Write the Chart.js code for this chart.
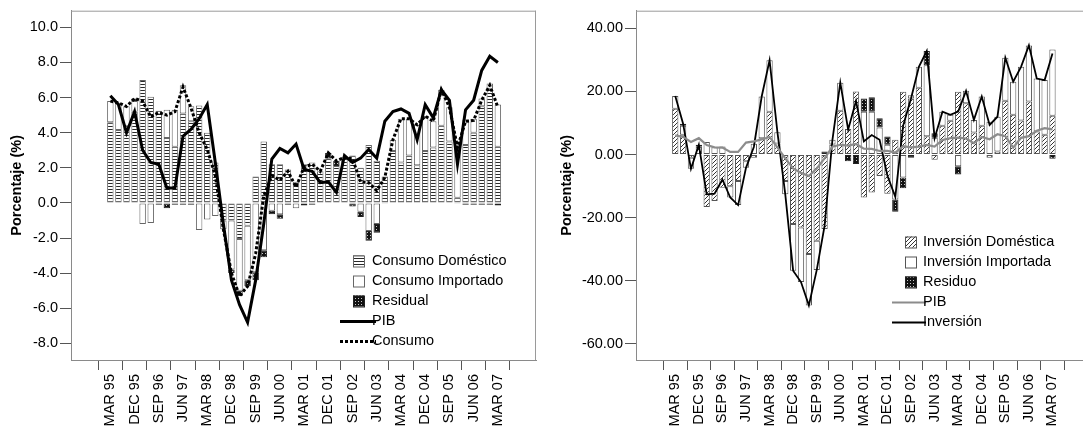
<!DOCTYPE html>
<html>
<head>
<meta charset="utf-8">
<script src="https://cdn.jsdelivr.net/npm/chart.js@4.4.1/dist/chart.umd.min.js"></script>
<style>
  html, body { margin: 0; padding: 0; background: #fff; width: 1083px; height: 428px; overflow: hidden; position: relative; }
  #consumo { position: absolute; left: 0; top: 0; }
  #inversion { position: absolute; left: 540px; top: 0; }
</style>
</head>
<body>
<canvas id="consumo" width="540" height="428"></canvas>
<canvas id="inversion" width="556" height="428"></canvas>
<script>
// ---- Quarterly periods ----
const quarters = [
  'MAR 95','JUN 95','SEP 95','DEC 95','MAR 96','JUN 96','SEP 96','DEC 96',
  'MAR 97','JUN 97','SEP 97','DEC 97','MAR 98','JUN 98','SEP 98','DEC 98',
  'MAR 99','JUN 99','SEP 99','DEC 99','MAR 00','JUN 00','SEP 00','DEC 00',
  'MAR 01','JUN 01','SEP 01','DEC 01','MAR 02','JUN 02','SEP 02','DEC 02',
  'MAR 03','JUN 03','SEP 03','DEC 03','MAR 04','JUN 04','SEP 04','DEC 04',
  'MAR 05','JUN 05','SEP 05','DEC 05','MAR 06','JUN 06','SEP 06','DEC 06',
  'MAR 07'
];
const tickLabels = ['MAR 95','DEC 95','SEP 96','JUN 97','MAR 98','DEC 98','SEP 99','JUN 00',
  'MAR 01','DEC 01','SEP 02','JUN 03','MAR 04','DEC 04','SEP 05','JUN 06','MAR 07'];

// ---- Consumption decomposition (%) ----
const consDomestico = [4.6,4.15,4.4,5.2,7.0,6.05,5.25,3.7,3.2,5.1,4.65,5.55,4.0,2.3,-1.0,-1.0,
  -2.05,-1.3,1.5,3.5,2.2,2.2,1.9,1.2,2.2,2.3,1.8,2.55,2.1,2.6,2.7,2.0,
  3.3,2.4,1.5,2.95,2.3,2.7,2.15,2.95,3.15,4.4,3.5,0.3,3.3,4.0,5.5,6.5,3.2];
const consImportado = [1.2,1.55,1.1,0.6,-1.2,-1.15,0,1.6,2.1,1.6,0.85,-1.55,-0.95,-0.75,-0.5,-2.8,
  -2.95,-3.1,-3.95,-2.7,-0.45,-0.65,0,-0.3,0,0,0,0,0,0,0,-0.5,
  -1.6,-1.2,0,0.65,2.5,2.1,2.3,2.0,1.5,2.05,1.95,2.9,1.45,0.8,0.45,0.3,2.4];
const consResidual = [0,0,0,0.15,0,0,-0.1,-0.3,-0.1,-0.1,-0.1,0,0,0,0,-0.2,
  -0.3,-0.35,-0.45,-0.4,-0.2,-0.25,-0.1,0,-0.15,-0.1,0,0.3,0.3,0,-0.2,-0.3,
  -0.55,-0.5,-0.05,0,0,0,0,0,0,0,0,-0.05,-0.1,-0.1,-0.1,-0.1,-0.15];
const consumoTotal = [5.8,5.7,5.5,5.95,5.8,4.9,5.15,5.0,5.2,6.6,5.4,4.0,3.05,1.55,-1.5,-4.0,
  -5.3,-4.75,-2.9,0.4,1.55,1.3,1.8,0.9,2.05,2.2,1.8,2.85,2.4,2.6,2.5,1.2,
  1.15,0.7,1.45,3.6,4.8,4.8,4.45,4.95,4.65,6.45,5.45,3.15,4.65,4.7,5.85,6.7,5.45];
const pib = [6.1,5.6,4.0,5.2,3.0,2.3,2.2,0.85,0.85,3.8,4.2,4.8,5.6,2.3,-1.2,-4.4,
  -5.8,-6.8,-4.4,-1.2,2.5,3.1,2.85,3.35,1.9,1.8,1.15,1.2,0.6,2.7,2.3,2.55,
  3.05,2.55,4.65,5.2,5.35,5.1,3.6,5.6,4.85,6.45,5.85,2.2,5.3,5.85,7.55,8.35,8.0];

// ---- Investment decomposition (%) ----
const invDomestica = [14.5,6.3,-1.0,2.5,-16.6,-14.7,-10.5,-10.0,-8.4,-2.1,-1.0,5.2,13.6,3.5,-8.4,-22.0,
  -23.1,-31.5,-27.3,-23.6,3.2,13.9,8.1,20.0,-13.6,-12.0,-6.8,-12.4,4.7,19.9,17.8,21.2,
  5.8,-1.6,9.1,10.7,19.9,16.3,7.0,9.1,-1.0,1.0,17.1,12.6,10.8,16.8,7.3,6.3,12.3];
const invImportada = [4.1,2.8,-3.5,0,4.0,2.3,2.6,-3.6,-7.6,-2.1,3.4,13.2,16.3,3.6,-4.2,-14.8,
  -17.3,-16.3,-9.3,0,1.5,8.9,0,0,13.6,13.6,8.6,3.1,-14.2,-7.3,1.0,6.6,
  22.5,5.3,4.5,1.9,-3.7,3.9,4.0,9.3,10.4,11.0,13.6,10.5,17.0,17.8,16.8,17.3,21.0];
const invResiduo = [0,0.7,0,0.6,0,0,0,0,0,0,0,0,0,0,0,0,
  0,0,0,1.0,0,0,-2.1,-3.0,4.2,4.6,2.9,2.6,-3.9,-3.4,-1.0,0,
  4.5,1.5,0,0,-2.6,0,0,0,0,0,0,0,0,0,0,0,-1.3];
const inversionTotal = [18.6,9.8,-4.5,3.1,-12.6,-12.4,-7.9,-13.6,-16.0,-4.2,2.4,18.4,29.9,7.1,-12.6,-36.8,
  -40.4,-47.8,-36.6,-22.6,4.7,22.8,7.9,17.0,4.2,6.2,4.7,-6.7,-13.4,9.2,17.8,27.8,
  32.8,5.2,13.6,12.6,13.6,20.2,11.0,18.4,9.4,12.0,30.7,23.1,27.8,34.6,24.1,23.6,32.0];

const yTicksConsumo = [-8, -6, -4, -2, 0, 2, 4, 6, 8, 10];
const yTicksInversion = [-60, -40, -20, 0, 20, 40];

// ---- Styling helpers ----
const FONT = "'Liberation Sans', Arial, sans-serif";
const FS = 14.5;

function makePattern(w, h, paint) {
  const c = document.createElement('canvas');
  c.width = w; c.height = h;
  const g = c.getContext('2d');
  paint(g, w, h);
  return g.createPattern(c, 'repeat');
}
// horizontal rules for the domestic consumption bars
const stripePattern = makePattern(4, 3, (g, w, h) => {
  g.fillStyle = '#fff'; g.fillRect(0, 0, w, h);
  g.fillStyle = '#2a2a2a'; g.fillRect(0, 0, w, 1);
});
// dark stippled fill for the residual bars
const dotPattern = makePattern(3, 3, (g, w, h) => {
  g.fillStyle = '#111'; g.fillRect(0, 0, w, h);
  g.fillStyle = '#c8c8c8'; g.fillRect(1, 1, 1, 1);
});
// diagonal hatching for the domestic investment bars
const hatchPattern = makePattern(4, 4, (g, w, h) => {
  g.fillStyle = '#fff'; g.fillRect(0, 0, w, h);
  g.strokeStyle = '#333'; g.lineWidth = 1;
  g.beginPath();
  g.moveTo(-1, 1); g.lineTo(1, -1);
  g.moveTo(0, 4); g.lineTo(4, 0);
  g.moveTo(3, 5); g.lineTo(5, 3);
  g.stroke();
});

const xy = arr => arr.map((v, i) => ({ x: i, y: v }));
const tickIndex = tickLabels.map(l => quarters.indexOf(l));

// Frame on top and right side of the plotting area
const framePlugin = {
  id: 'frame',
  afterDraw(chart) {
    const { ctx, chartArea: a } = chart;
    ctx.save();
    ctx.strokeStyle = '#9a9a9a';
    ctx.lineWidth = 1;
    ctx.beginPath();
    ctx.moveTo(a.left, a.top + 0.5); ctx.lineTo(a.right, a.top + 0.5);
    ctx.moveTo(a.right - 0.5, a.top); ctx.lineTo(a.right - 0.5, a.bottom);
    ctx.stroke();
    ctx.restore();
  }
};
// Legend drawn inside the plotting area
const legendPlugin = {
  id: 'boxLegend',
  afterDraw(chart, args, opts) {
    const { ctx } = chart;
    ctx.save();
    ctx.font = `${FS}px ${FONT}`;
    ctx.textBaseline = 'middle';
    opts.items.forEach((it, k) => {
      const y = opts.y + k * opts.rowGap;
      if (it.kind === 'box') {
        ctx.fillStyle = it.fill;
        ctx.fillRect(opts.boxX, y - 5.5, 11, 11);
        ctx.strokeStyle = it.stroke;
        ctx.lineWidth = 1;
        ctx.strokeRect(opts.boxX + 0.5, y - 5, 11, 11);
      } else {
        ctx.strokeStyle = it.color;
        ctx.lineWidth = it.width;
        ctx.setLineDash(it.dash || []);
        ctx.beginPath();
        ctx.moveTo(opts.lineX0, y + 0.5); ctx.lineTo(opts.lineX1, y + 0.5);
        ctx.stroke();
        ctx.setLineDash([]);
      }
      ctx.fillStyle = '#000';
      ctx.fillText(it.label, opts.textX, y);
    });
    ctx.restore();
  }
};

function xAxis(min, max) {
  return {
    type: 'linear', min, max, stacked: true,
    afterBuildTicks: s => { s.ticks = tickIndex.map(v => ({ value: v })); },
    afterFit: s => { s.height = 68; },
    ticks: {
      autoSkip: false, minRotation: 90, maxRotation: 90, padding: 4,
      color: '#000', font: { family: FONT, size: FS },
      callback: v => quarters[v]
    },
    grid: { drawOnChartArea: false, drawTicks: true, tickLength: 10, tickColor: '#555', color: '#555' },
    border: { display: true, color: '#8a8a8a', width: 1 }
  };
}
function yAxis(min, max, ticksList, digits, width, titlePad) {
  return {
    type: 'linear', min, max, stacked: true,
    afterBuildTicks: s => { s.ticks = ticksList.map(v => ({ value: v })); },
    afterFit: s => { s.width = width; },
    ticks: {
      padding: 2, color: '#000', font: { family: FONT, size: FS },
      callback: v => Number(v).toFixed(digits)
    },
    grid: { drawOnChartArea: false, drawTicks: true, tickLength: 11, tickColor: '#555', color: '#555' },
    border: { display: true, color: '#8a8a8a', width: 1 },
    title: {
      display: true, text: 'Porcentaje (%)', color: '#000',
      font: { family: FONT, size: FS, weight: 'bold' },
      padding: { top: titlePad, bottom: 0 }
    }
  };
}
function barSet(label, values, fill, stroke) {
  return {
    type: 'bar', label, data: xy(values), order: 2,
    backgroundColor: fill, borderColor: stroke, borderWidth: 1, borderSkipped: false,
    barPercentage: 0.8, categoryPercentage: 1.0
  };
}
function lineSet(label, values, color, width, dash, stack) {
  return {
    type: 'line', label, data: xy(values), order: 1, stack,
    borderColor: color, borderWidth: width, borderDash: dash, borderCapStyle: 'butt',
    pointRadius: 0, tension: 0, fill: false
  };
}

Chart.defaults.font.family = FONT;

new Chart(document.getElementById('consumo'), {
  data: {
    datasets: [
      barSet('Consumo Doméstico', consDomestico, stripePattern, '#666'),
      barSet('Consumo Importado', consImportado, '#fff', '#666'),
      barSet('Residual', consResidual, dotPattern, '#222'),
      lineSet('PIB', pib, '#000', 3, [], 'pib'),
      lineSet('Consumo', consumoTotal, '#000', 3, [3, 2], 'cons')
    ]
  },
  options: {
    responsive: false, animation: false, devicePixelRatio: 1,
    layout: { padding: { top: 9, right: 4, left: 0, bottom: 0 } },
    scales: {
      x: xAxis(-3.18, 51.03),
      y: yAxis(-8.95, 10.95, yTicksConsumo, 1, 71, 8)
    },
    plugins: {
      legend: { display: false }, tooltip: { enabled: false },
      boxLegend: {
        boxX: 353, textX: 372, lineX0: 340, lineX1: 376, y: 261, rowGap: 20,
        items: [
          { kind: 'box', fill: stripePattern, stroke: '#666', label: 'Consumo Doméstico' },
          { kind: 'box', fill: '#fff', stroke: '#666', label: 'Consumo Importado' },
          { kind: 'box', fill: dotPattern, stroke: '#222', label: 'Residual' },
          { kind: 'line', color: '#000', width: 3, label: 'PIB' },
          { kind: 'line', color: '#000', width: 3, dash: [3, 2], label: 'Consumo' }
        ]
      }
    }
  },
  plugins: [framePlugin, legendPlugin]
});

new Chart(document.getElementById('inversion'), {
  data: {
    datasets: [
      barSet('Inversión Doméstica', invDomestica, hatchPattern, '#555'),
      barSet('Inversión Importada', invImportada, '#fff', '#555'),
      barSet('Residuo', invResiduo, dotPattern, '#222'),
      lineSet('PIB', pib, '#8c8c8c', 2.2, [], 'pib'),
      lineSet('Inversión', inversionTotal, '#000', 1.8, [], 'inv')
    ]
  },
  options: {
    responsive: false, animation: false, devicePixelRatio: 1,
    layout: { padding: { top: 8, right: 4.5, left: 0, bottom: 0 } },
    scales: {
      x: xAxis(-3.29, 51.26),
      y: yAxis(-65.1, 45.6, yTicksInversion, 2, 96, 18)
    },
    plugins: {
      legend: { display: false }, tooltip: { enabled: false },
      boxLegend: {
        boxX: 365, textX: 383, lineX0: 352, lineX1: 386, y: 242, rowGap: 20,
        items: [
          { kind: 'box', fill: hatchPattern, stroke: '#555', label: 'Inversión Doméstica' },
          { kind: 'box', fill: '#fff', stroke: '#555', label: 'Inversión Importada' },
          { kind: 'box', fill: dotPattern, stroke: '#222', label: 'Residuo' },
          { kind: 'line', color: '#8c8c8c', width: 2.2, label: 'PIB' },
          { kind: 'line', color: '#000', width: 1.8, label: 'Inversión' }
        ]
      }
    }
  },
  plugins: [framePlugin, legendPlugin]
});
</script>
</body>
</html>
